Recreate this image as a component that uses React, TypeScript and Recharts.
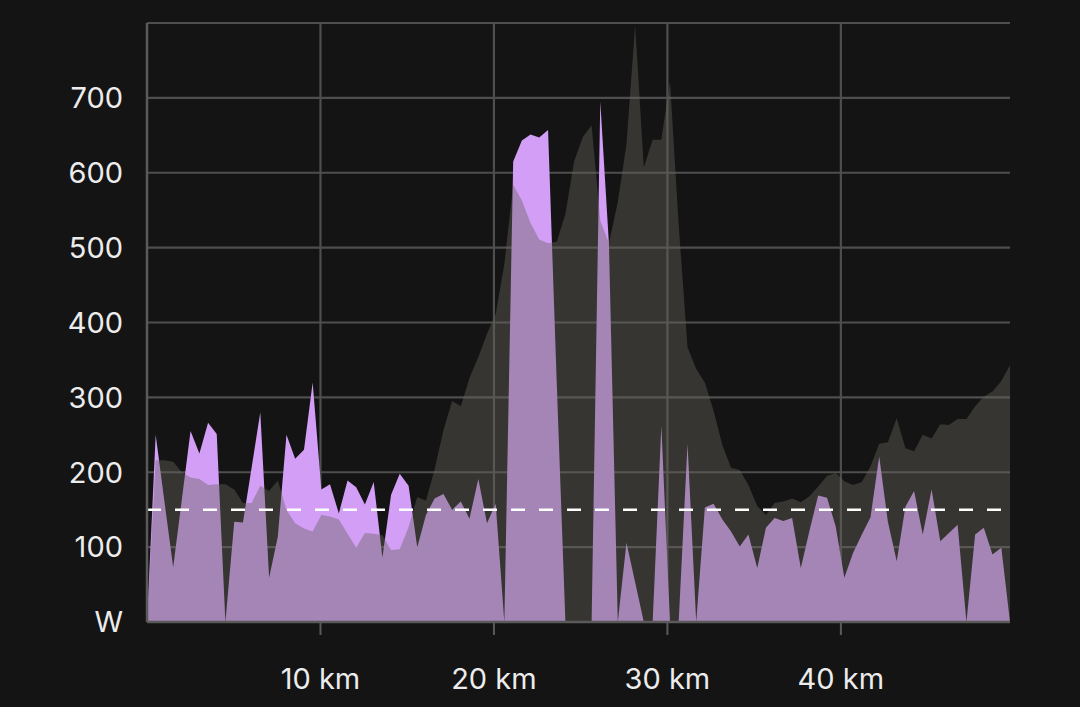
import React, { useLayoutEffect } from 'react';
import { AreaChart, Area, XAxis, YAxis, CartesianGrid, ReferenceLine } from 'recharts';

const distanceKm = [
  0, 0.5, 1.01, 1.51, 2.01, 2.51, 3.02, 3.52, 4.02, 4.52,
  5.03, 5.53, 6.03, 6.53, 7.04, 7.54, 8.04, 8.54, 9.05, 9.55,
  10.05, 10.55, 11.06, 11.56, 12.06, 12.56, 13.07, 13.57, 14.07, 14.57,
  15.08, 15.58, 16.08, 16.58, 17.09, 17.59, 18.09, 18.59, 19.1, 19.6,
  20.1, 20.6, 21.11, 21.61, 22.11, 22.61, 23.12, 23.62, 24.12, 24.62,
  25.13, 25.63, 26.13, 26.63, 27.14, 27.64, 28.14, 28.64, 29.15, 29.65,
  30.15, 30.65, 31.16, 31.66, 32.16, 32.66, 33.17, 33.67, 34.17, 34.67,
  35.18, 35.68, 36.18, 36.68, 37.19, 37.69, 38.19, 38.69, 39.2, 39.7,
  40.2, 40.7, 41.21, 41.71, 42.21, 42.71, 43.22, 43.72, 44.22, 44.72,
  45.23, 45.73, 46.23, 46.73, 47.24, 47.74, 48.24, 48.74, 49.25, 49.75,
];

const powerW = [
  0, 250, 160, 73, 164, 255, 225, 266, 251, 0,
  134, 133, 206, 280, 59, 114, 250, 218, 230, 320,
  177, 184, 145, 189, 180, 157, 187, 86, 170, 198,
  182, 100, 143, 165, 171, 150, 161, 138, 191, 132,
  158, 0, 615, 643, 651, 647, 657, 320, 0, 0,
  0, 0, 695, 505, 0, 106, 53, 0, 0, 262,
  0, 0, 238, 0, 153, 158, 137, 121, 101, 117,
  72, 126, 139, 135, 139, 72, 122, 169, 166, 128,
  59, 92, 117, 140, 221, 134, 81, 154, 175, 117,
  177, 108, 119, 130, 0, 117, 126, 90, 99, 0,
];

const profile = [
  0, 216, 216, 214, 200, 193, 191, 183, 184, 184,
  177, 159, 159, 182, 175, 189, 150, 132, 125, 121,
  143, 141, 137, 118, 99, 119, 118, 116, 96, 97,
  127, 167, 162, 204, 256, 295, 288, 326, 354, 385,
  411, 478, 584, 563, 533, 511, 506, 508, 545, 615,
  648, 663, 536, 506, 561, 638, 797, 607, 644, 644,
  722, 530, 367, 338, 320, 282, 236, 206, 203, 183,
  155, 143, 159, 161, 165, 160, 168, 181, 195, 199,
  188, 183, 187, 208, 238, 240, 272, 232, 228, 250,
  245, 264, 263, 271, 271, 288, 301, 308, 322, 343,
];

const xTicks = [10, 20, 30, 40];
const yTicks = [0, 100, 200, 300, 400, 500, 600, 700, 800];
const targetPower = 150;

const data = distanceKm.map((km, i) => ({ km, power: powerW[i], profile: profile[i] }));

const BG = '#141414';
const GRID = '#4e4e4e';
const AXIS = '#5a5a5a';
const TEXT = '#ececec';
const FONT = 'Inter, "Noto Sans", sans-serif';

export default function App() {
  useLayoutEffect(() => {
    document.body.style.margin = '0';
    document.body.style.background = BG;
  }, []);
  return (
    <div style={{ width: 1080, height: 707, background: BG }}>
      <AreaChart
        width={1080}
        height={707}
        data={data}
        margin={{ top: 23, right: 70, bottom: 0, left: 0 }}
      >
        <CartesianGrid stroke={GRID} strokeWidth={2.2} horizontalValues={yTicks} verticalValues={xTicks} />
        <XAxis
          dataKey="km"
          type="number"
          domain={[0, 'dataMax']}
          ticks={xTicks}
          tickFormatter={(v: number) => `${v} km`}
          height={85}
          tickSize={13}
          tickMargin={33}
          axisLine={{ stroke: AXIS, strokeWidth: 2.5 }}
          tickLine={{ stroke: AXIS, strokeWidth: 2 }}
          tick={{ fill: TEXT, fontSize: 29, fontFamily: FONT }}
        />
        <YAxis
          type="number"
          domain={[0, 800]}
          ticks={yTicks}
          interval={0}
          width={147}
          tickSize={0}
          tickMargin={24}
          tickLine={false}
          axisLine={{ stroke: AXIS, strokeWidth: 2.5 }}
          tickFormatter={(v: number) => (v === 0 ? 'W' : v === 800 ? '' : String(v))}
          tick={{ fill: TEXT, fontSize: 29, fontFamily: FONT }}
        />
        <YAxis
          yAxisId="frame"
          orientation="right"
          type="number"
          domain={[0, 800]}
          width={0}
          tick={false}
          tickLine={false}
          axisLine={{ stroke: AXIS, strokeWidth: 2.5 }}
        />
        <Area
          type="linear"
          dataKey="power"
          stroke="none"
          fill="#d29ef6"
          fillOpacity={1}
          isAnimationActive={false}
          dot={false}
          activeDot={false}
        />
        <Area
          type="linear"
          dataKey="profile"
          stroke="none"
          fill="#67635c"
          fillOpacity={0.42}
          isAnimationActive={false}
          dot={false}
          activeDot={false}
        />
        <ReferenceLine y={targetPower} stroke="#ffffff" strokeWidth={2.4} strokeDasharray="14 14" />
      </AreaChart>
    </div>
  );
}
